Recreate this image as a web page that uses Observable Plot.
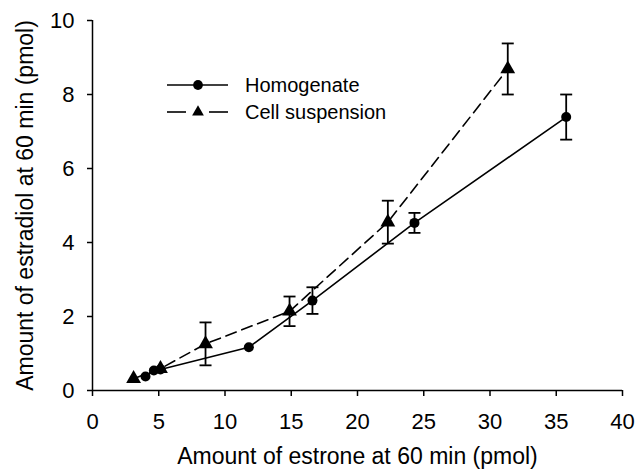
<!DOCTYPE html>
<html><head><meta charset="utf-8">
<script src="https://cdn.jsdelivr.net/npm/d3@7"></script>
<script src="https://cdn.jsdelivr.net/npm/@observablehq/plot@0.6"></script>
<style>
body{margin:0;background:#fff;}
#chart{position:relative;width:635px;height:470px;font-family:"Liberation Sans",Arial,sans-serif;}
#legend{position:absolute;left:0;top:0;pointer-events:none;}
</style></head><body><div id="chart"></div>
<script>
// Homogenate series
const homX = [4.0, 4.63, 5.13, 11.8, 16.6, 24.3, 35.75];
const homY = [0.38, 0.54, 0.57, 1.17, 2.43, 4.53, 7.39];
const homErr = [null, null, null, null, 0.36, 0.27, 0.61];
// Cell suspension series
const cellX = [3.1, 5.13, 8.53, 14.87, 22.29, 31.34];
const cellY = [0.32, 0.59, 1.26, 2.14, 4.55, 8.69];
const cellErr = [null, null, 0.58, 0.40, 0.58, 0.69];

const xTicks = [0, 5, 10, 15, 20, 25, 30, 35, 40];
const yTicks = [0, 2, 4, 6, 8, 10];
const xTitle = "Amount of estrone at 60 min (pmol)";
const yTitle = "Amount of estradiol at 60 min (pmol)";
const seriesNames = ["Homogenate", "Cell suspension"];

const hom = homX.map((x, i) => ({x, y: homY[i], e: homErr[i]}));
const cell = cellX.map((x, i) => ({x, y: cellY[i], e: cellErr[i]}));
const errs = [...hom, ...cell].filter(d => d.e != null)
  .map(d => ({x: d.x, lo: d.y - d.e, hi: d.y + d.e}));

const cap = {draw(ctx, size) { const w = Math.sqrt(size / Math.PI); ctx.moveTo(-w, 0); ctx.lineTo(w, 0); }};

const font = '"Liberation Sans", Arial, sans-serif';
const chart = Plot.plot({
  width: 635, height: 470,
  marginLeft: 92, marginRight: 13, marginTop: 20, marginBottom: 80,
  style: {fontFamily: font, fontSize: "22px", color: "black", background: "white"},
  x: {domain: [0, 40]},
  y: {domain: [0, 10]},
  marks: [
    Plot.axisX({ticks: xTicks, tickSize: 6, tickPadding: 17, fontSize: 22, strokeWidth: 1.5, label: null}),
    Plot.axisY({ticks: yTicks, tickSize: 5, tickPadding: 13, fontSize: 22, strokeWidth: 1.5, label: null}),
    Plot.ruleX([0], {strokeWidth: 1.5}),
    Plot.ruleY([0], {strokeWidth: 1.5}),
    Plot.text([xTitle], {text: d => d, frameAnchor: "bottom", textAnchor: "middle", dy: 73, fontSize: 23}),
    Plot.text([yTitle], {text: d => d, frameAnchor: "left", textAnchor: "middle", dx: -67, rotate: -90, fontSize: 23}),
    Plot.line(hom, {x: "x", y: "y", stroke: "black", strokeWidth: 1.6}),
    Plot.line(cell, {x: "x", y: "y", stroke: "black", strokeWidth: 1.6, strokeDasharray: "11,6"}),
    Plot.ruleX(errs, {x: "x", y1: "lo", y2: "hi", stroke: "black", strokeWidth: 1.8}),
    Plot.dot(errs, {x: "x", y: "lo", symbol: cap, r: 6, stroke: "black", strokeWidth: 1.8}),
    Plot.dot(errs, {x: "x", y: "hi", symbol: cap, r: 6, stroke: "black", strokeWidth: 1.8}),
    Plot.dot(cell, {x: "x", y: "y", symbol: "triangle", r: 5.5, fill: "black", stroke: "none"}),
    Plot.dot(hom, {x: "x", y: "y", symbol: "circle", r: 5, fill: "black", stroke: "none"})
  ]
});
const host = document.getElementById("chart");
host.appendChild(chart);

// Legend overlay
const leg = d3.select(host).append("svg").attr("id", "legend").attr("width", 635).attr("height", 470)
  .style("font-family", font);
const rows = [{name: seriesNames[0], sym: d3.symbolCircle, dash: null, cy: 85},
              {name: seriesNames[1], sym: d3.symbolTriangle, dash: true, cy: 112}];
rows.forEach(r => {
  const g = leg.append("g");
  if (r.dash) {
    g.append("line").attr("x1", 167).attr("x2", 186).attr("y1", r.cy).attr("y2", r.cy).attr("stroke", "black").attr("stroke-width", 1.6);
    g.append("line").attr("x1", 209).attr("x2", 228).attr("y1", r.cy).attr("y2", r.cy).attr("stroke", "black").attr("stroke-width", 1.6);
  } else {
    g.append("line").attr("x1", 167).attr("x2", 228).attr("y1", r.cy).attr("y2", r.cy).attr("stroke", "black").attr("stroke-width", 1.6);
  }
  g.append("path").attr("d", d3.symbol(r.sym, r.dash ? 60 : 75)()).attr("transform", `translate(198,${r.cy})`).attr("fill", "black");
  g.append("text").attr("x", 245).attr("y", r.cy).attr("dy", "0.35em").attr("font-size", 20).text(r.name);
});
</script></body></html>
